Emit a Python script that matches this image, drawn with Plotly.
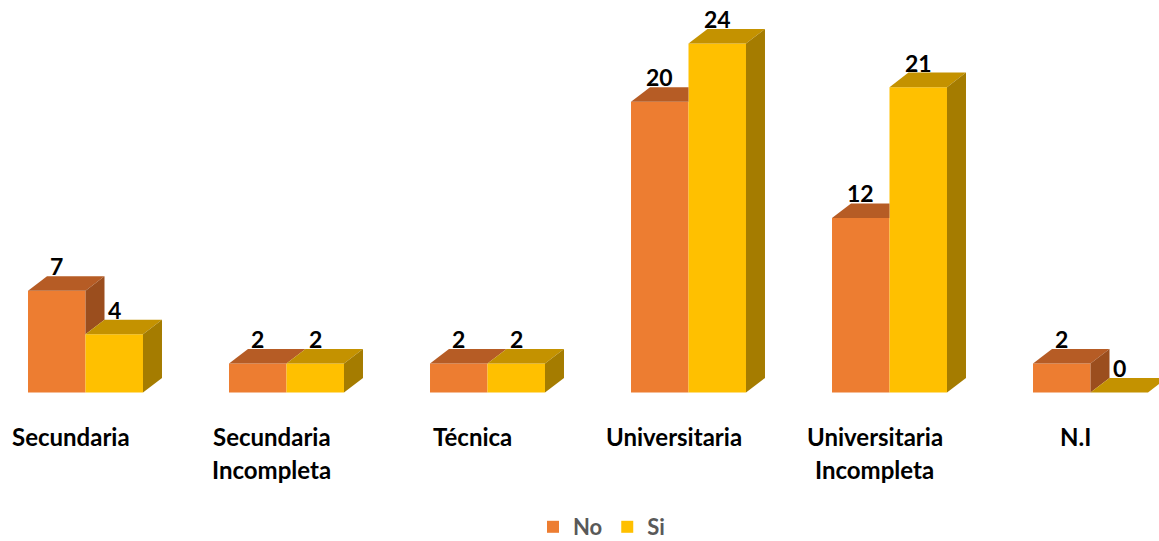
import plotly.graph_objects as go

categories = ["Secundaria", "Secundaria<br>Incompleta", "Técnica", "Universitaria",
              "Universitaria<br>Incompleta", "N.I"]
no_values = [7, 2, 2, 20, 12, 2]
si_values = [4, 2, 2, 24, 21, 0]
series_names = ["No", "Si"]

FONT = "Lato"
C_NO = ("#ED7D31", "#B65C25", "#9B4E1E")   # front, top, side
C_SI = ("#FFC000", "#C49200", "#A57C00")

W = 0.286          # bar width in category units
DX = 19 / 201      # depth offset (x) in category units
DY = 1.0           # depth offset (y) in value units

x_idx = list(range(len(categories)))

fig = go.Figure()
fig.add_trace(go.Bar(x=x_idx, y=no_values, name=series_names[0], marker_color=C_NO[0],
                     marker_line_width=0, hoverinfo="skip"))
fig.add_trace(go.Bar(x=x_idx, y=si_values, name=series_names[1], marker_color=C_SI[0],
                     marker_line_width=0, hoverinfo="skip"))


def poly(xs, ys, color):
    fig.add_trace(go.Scatter(x=xs + [xs[0]], y=ys + [ys[0]], fill="toself", fillcolor=color,
                             mode="lines", line=dict(width=0, color=color),
                             showlegend=False, hoverinfo="skip"))


annotations = []
for i, (hn, hs) in enumerate(zip(no_values, si_values)):
    a = i - W       # No bar left
    b = i           # shared edge
    c = i + W       # Si bar right
    # No top face
    if hs > hn:
        poly([a, a + DX, b, b], [hn, hn + DY, hn + DY, hn], C_NO[1])
    else:
        poly([a, a + DX, b + DX, b], [hn, hn + DY, hn + DY, hn], C_NO[1])
    # No side face (visible part above Si bar)
    if hn > hs:
        poly([b, b + DX, b + DX, b], [hs, hs + DY, hn + DY, hn], C_NO[2])
    # Si top face
    poly([b, b + DX, c + DX, c], [hs, hs + DY, hs + DY, hs], C_SI[1])
    # Si side face
    if hs > 0:
        poly([c, c + DX, c + DX, c], [0, DY, hs + DY, hs], C_SI[2])
    # value labels
    for xc, v in ((i - W / 2, hn), (i + W / 2, hs)):
        annotations.append(dict(x=xc, y=v + DY, text=str(v), showarrow=False,
                                yanchor="bottom", xanchor="center", yshift=-6,
                                font=dict(family=FONT, size=23, color="#000000", weight="bold")))
    # category labels
    for k, line in enumerate(categories[i].split("<br>")):
        annotations.append(dict(x=i, y=0, text=line, showarrow=False, xanchor="center",
                                yanchor="top", xshift=-15, yshift=-27 - 33 * k,
                                font=dict(family=FONT, size=24, color="#000000", weight="bold")))

px_per_unit = 14.54
base_px = 392.5
y1 = base_px / px_per_unit
y0 = y1 - 541 / px_per_unit
x0 = -85.5 / 201
x1 = x0 + 1159 / 201

fig.update_layout(
    width=1159, height=541,
    margin=dict(l=0, r=0, t=0, b=0, autoexpand=False),
    paper_bgcolor="white", plot_bgcolor="white",
    barmode="group", bargap=1 - 2 * W, bargroupgap=0,
    xaxis=dict(range=[x0, x1], visible=False, fixedrange=True),
    yaxis=dict(range=[y0, y1], visible=False, fixedrange=True),
    annotations=annotations,
    showlegend=True,
    legend=dict(orientation="h", x=0.5 + 22 / 1159, xanchor="center", y=14 / 541, yanchor="middle",
                font=dict(family=FONT, size=22, color="#595959", weight="bold"),
                bgcolor="rgba(0,0,0,0)", itemclick=False, itemdoubleclick=False),
)

fig.write_html("out.html", config={"displayModeBar": False},
               post_script="document.body.style.margin='0px';")
